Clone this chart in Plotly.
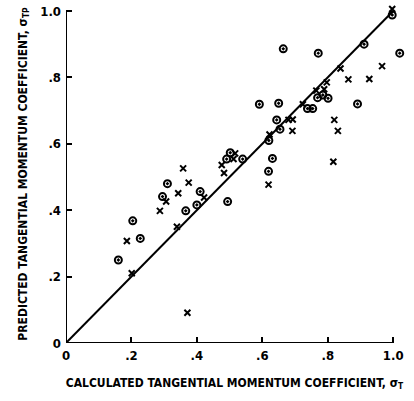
import plotly.graph_objects as go

# Circle-marked points (calculated sigma_T, predicted sigma_TP)
circ_x = [0.160, 0.204, 0.227, 0.295, 0.310, 0.366, 0.400, 0.410, 0.494, 0.491,
          0.502, 0.540, 0.619, 0.631, 0.620, 0.654, 0.644, 0.591, 0.650, 0.664,
          0.771, 0.738, 0.754, 0.769, 0.785, 0.801, 0.891, 0.911, 1.020, 0.997]
circ_y = [0.250, 0.368, 0.315, 0.441, 0.480, 0.398, 0.416, 0.456, 0.426, 0.554,
          0.573, 0.554, 0.517, 0.556, 0.610, 0.644, 0.672, 0.719, 0.722, 0.886,
          0.873, 0.706, 0.706, 0.739, 0.747, 0.737, 0.720, 0.900, 0.873, 0.988]

# Cross-marked points
cross_x = [0.201, 0.186, 0.287, 0.306, 0.339, 0.343, 0.358, 0.375, 0.371, 0.422,
           0.476, 0.483, 0.512, 0.517, 0.619, 0.622, 0.680, 0.693, 0.692, 0.724,
           0.765, 0.789, 0.797, 0.820, 0.831, 0.817, 0.839, 0.863, 0.927, 0.966, 0.997]
cross_y = [0.210, 0.307, 0.398, 0.426, 0.350, 0.451, 0.526, 0.483, 0.091, 0.438,
           0.536, 0.512, 0.554, 0.571, 0.477, 0.628, 0.672, 0.673, 0.639, 0.719,
           0.760, 0.764, 0.785, 0.672, 0.639, 0.546, 0.827, 0.794, 0.795, 0.834, 1.006]

line_x = [0.0, 1.0]
line_y = [0.0, 1.0]

tick_vals = [0, 0.2, 0.4, 0.6, 0.8, 1.0]
tick_text = ["0", ".2", ".4", ".6", ".8", "1.0"]

FONT = "DejaVu Sans Condensed, Liberation Sans Narrow, Arial Narrow, sans-serif"

fig = go.Figure()
fig.add_trace(go.Scatter(x=line_x, y=line_y, mode="lines",
                         line=dict(color="black", width=2), showlegend=False,
                         hoverinfo="skip"))
fig.add_trace(go.Scatter(x=circ_x, y=circ_y, mode="markers", cliponaxis=False,
                         marker=dict(symbol="circle-open-dot", size=7, color="black",
                                     line=dict(color="black", width=2)),
                         showlegend=False))
fig.add_trace(go.Scatter(x=cross_x, y=cross_y, mode="markers", cliponaxis=False,
                         marker=dict(symbol="x-thin-open", size=6, color="black",
                                     line=dict(color="black", width=2)),
                         showlegend=False))

# axis lines ending at 1.0 (ranges extend slightly so edge points stay visible)
fig.add_shape(type="line", xref="x", yref="y", x0=0, y0=0, x1=1.0, y1=0,
              line=dict(color="black", width=2))
fig.add_shape(type="line", xref="x", yref="y", x0=0, y0=0, x1=0, y1=1.0,
              line=dict(color="black", width=2))

fig.update_layout(
    width=414, height=401,
    margin=dict(l=66, r=11, t=5, b=58),
    plot_bgcolor="white", paper_bgcolor="white",
    font=dict(family=FONT, color="black", size=12),
    xaxis=dict(range=[0, 1.03], tickvals=tick_vals, ticktext=tick_text,
               showgrid=False, zeroline=False, showline=False,
               ticks="inside", ticklen=6, tickwidth=1.5, tickcolor="black",
               ticklabelstandoff=3,
               tickfont=dict(family=FONT, size=13, color="black", weight="bold"),
               title=dict(text="<b>CALCULATED TANGENTIAL MOMENTUM COEFFICIENT, σ<sub>T</sub></b>",
                          font=dict(family=FONT, size=12, color="black"), standoff=16)),
    yaxis=dict(range=[0, 1.018], tickvals=tick_vals, ticktext=tick_text,
               showgrid=False, zeroline=False, showline=False,
               ticks="inside", ticklen=6, tickwidth=1.5, tickcolor="black",
               ticklabelstandoff=4,
               tickfont=dict(family=FONT, size=13, color="black", weight="bold"),
               title=dict(text="<b>PREDICTED TANGENTIAL MOMENTUM COEFFICIENT, σ<sub>TP</sub></b>",
                          font=dict(family=FONT, size=12, color="black"), standoff=10)),
)

fig.write_html("out.html")
